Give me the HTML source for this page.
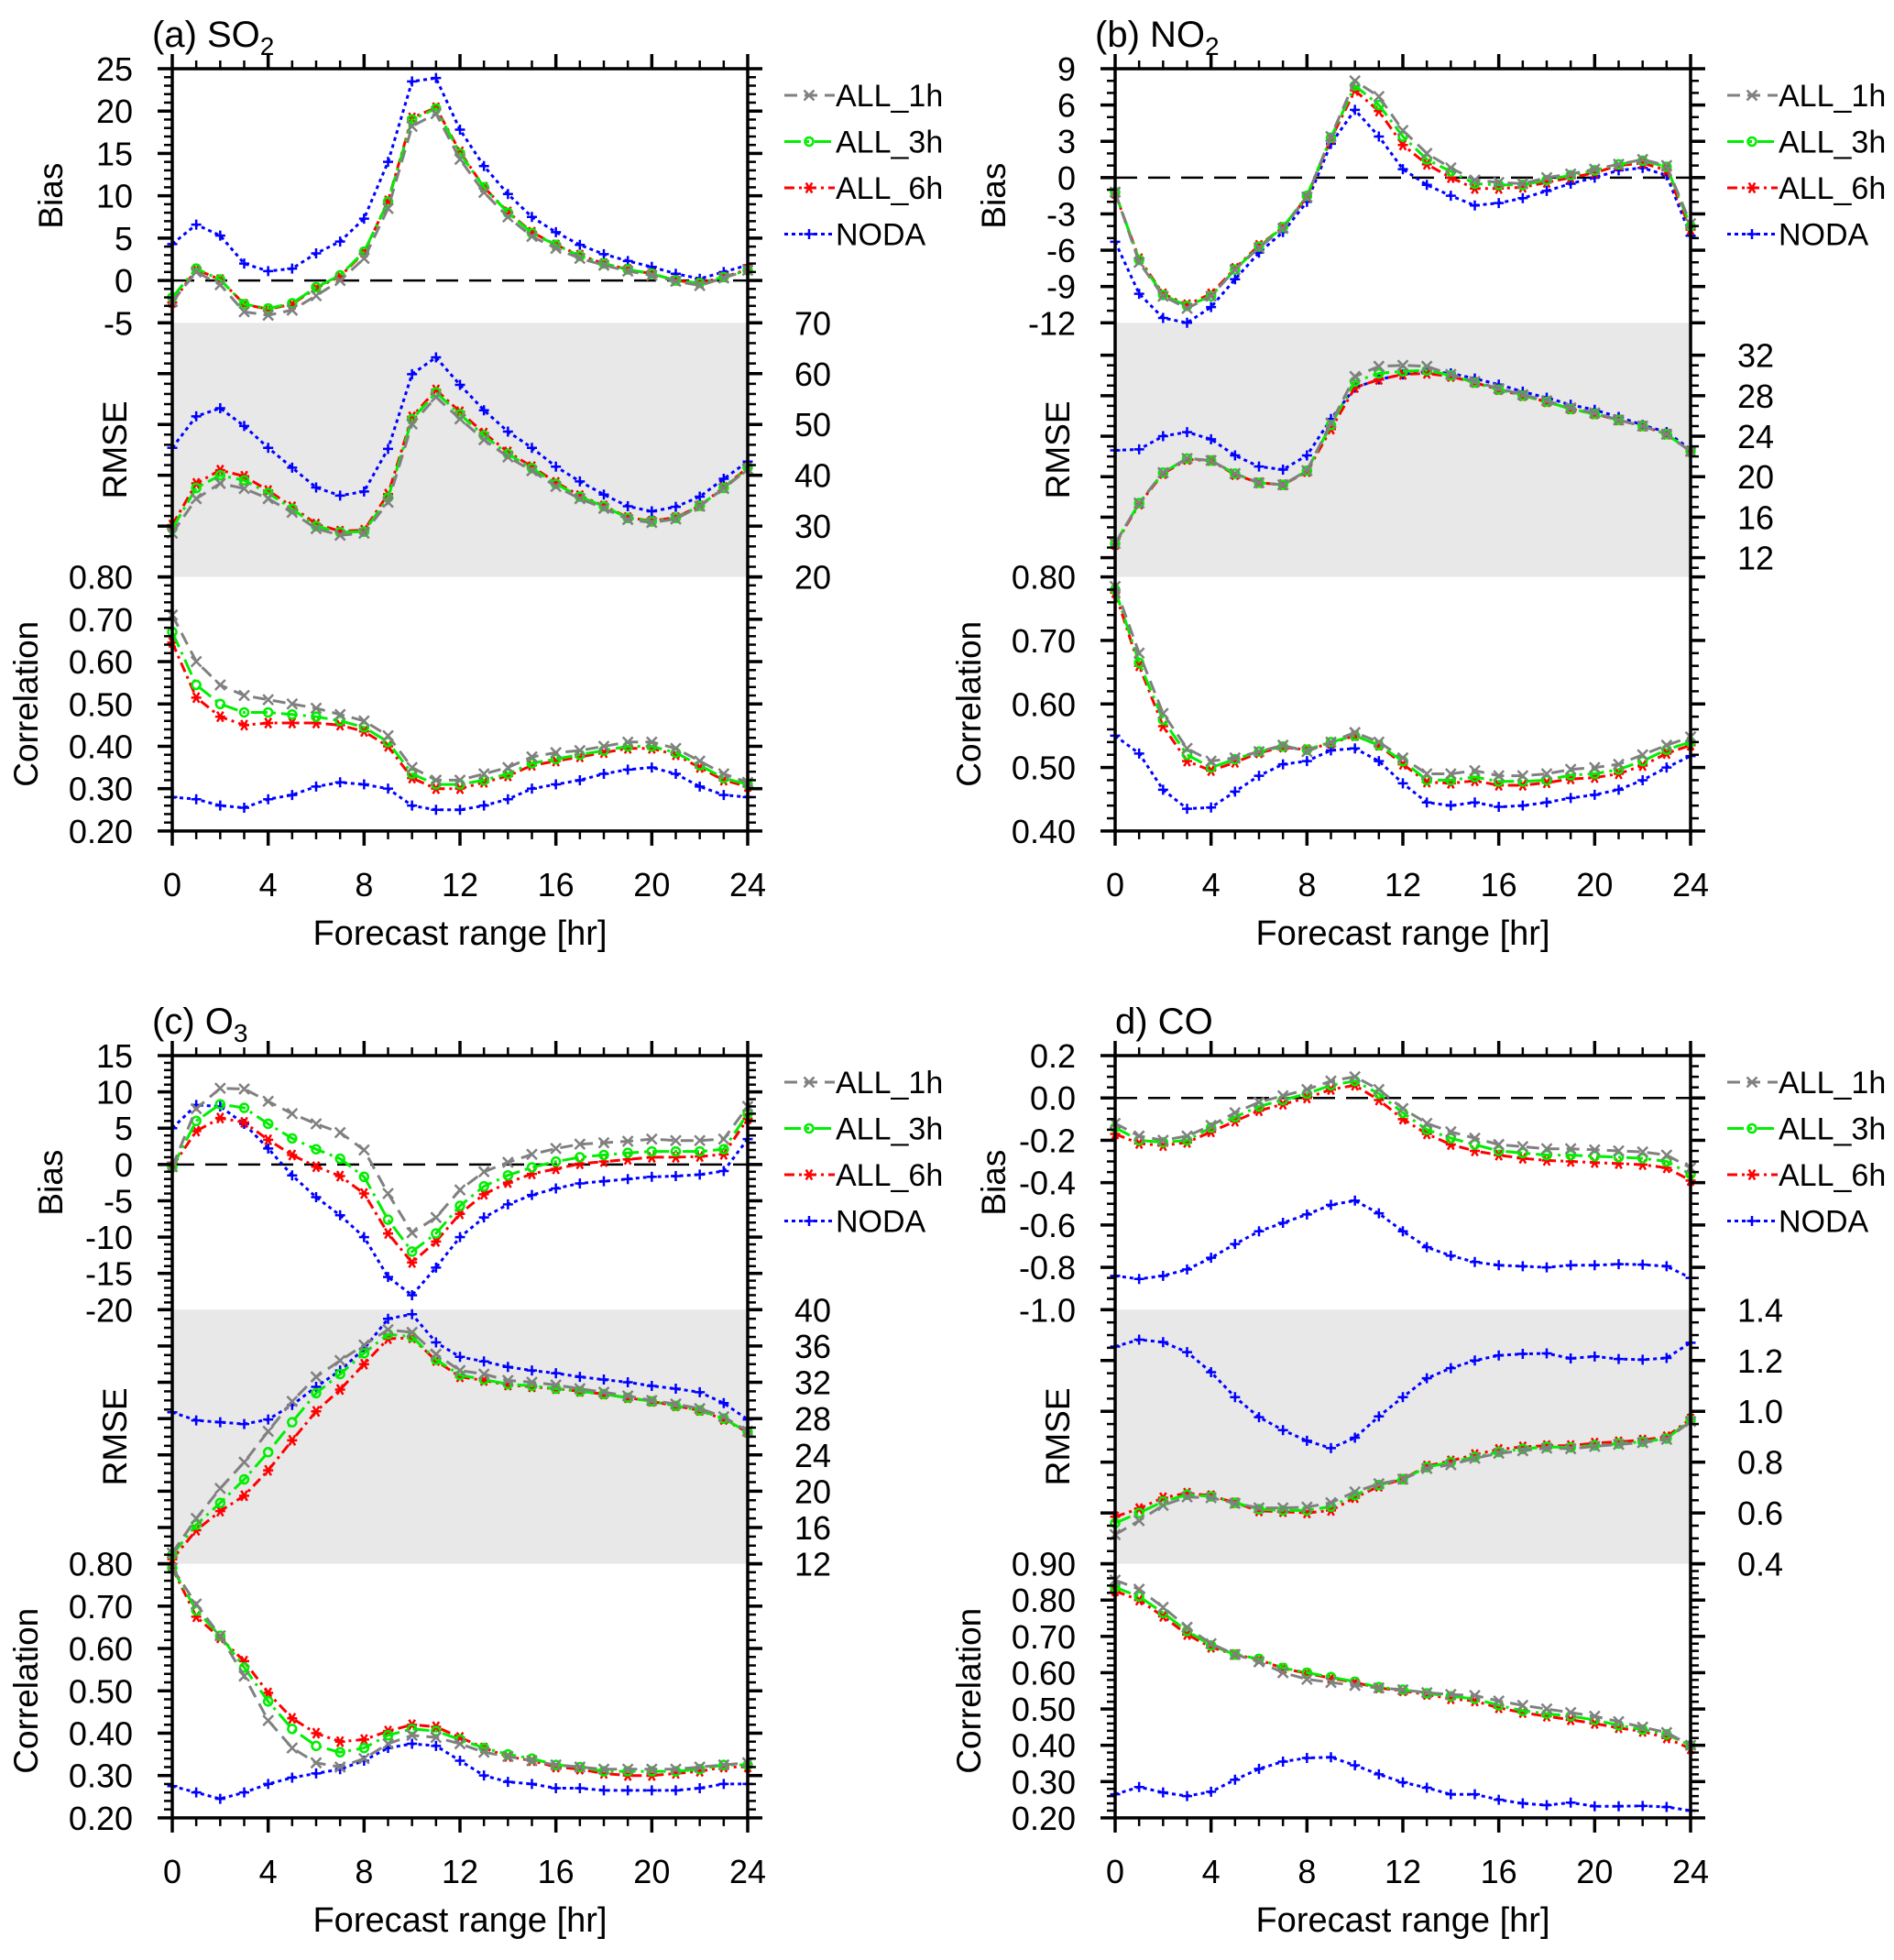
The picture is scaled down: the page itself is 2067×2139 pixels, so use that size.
<!DOCTYPE html>
<html><head><meta charset="utf-8"><style>
body{margin:0;background:#fff}
svg text{font-family:"Liberation Sans",sans-serif;fill:#000}
</style></head><body>
<svg id="chart" xmlns="http://www.w3.org/2000/svg" width="2067" height="2134" viewBox="0 0 2067 2134"></svg>
<script>
const hours=[0,1,2,3,4,5,6,7,8,9,10,11,12,13,14,15,16,17,18,19,20,21,22,23,24];
const seriesNames=["ALL_1h","ALL_3h","ALL_6h","NODA"];
// (a) SO2
const so2Bias1h=[-2.5,1.0,-0.5,-3.7,-4.1,-3.5,-1.8,0,2.6,8.5,18.2,19.7,14.3,10.4,7.5,5.2,3.8,2.6,1.8,1.1,0.6,-0.1,-0.6,0.3,1.2];
const so2Bias3h=[-2.0,1.4,0.1,-2.8,-3.3,-2.7,-0.8,0.6,3.4,9.3,19.0,20.3,15.0,11.0,8.0,5.6,4.2,2.9,2.0,1.3,0.8,0.0,-0.3,0.4,1.2];
const so2Bias6h=[-2.6,1.3,0.1,-2.8,-3.4,-2.8,-0.9,0.5,3.3,9.4,19.2,20.4,15.2,11.0,8.1,5.7,4.2,3.0,2.0,1.3,0.8,0.0,-0.3,0.4,1.3];
const so2BiasNoda=[4.3,6.6,5.3,2.0,1.1,1.4,3.2,4.6,7.3,14.0,23.5,23.9,17.8,13.5,10.2,7.5,5.7,4.2,3.1,2.3,1.6,0.8,0.2,1.0,1.8];
const so2Rmse1h=[28.6,35.4,38.4,37.4,35.4,32.7,29.5,28.2,28.6,34.7,50.1,55.4,51.1,47.0,43.6,40.9,37.8,35.4,33.5,31.3,30.7,31.4,33.9,37.4,41.2];
const so2Rmse3h=[29.5,37.5,40.0,39.0,36.5,33.4,30.0,28.8,28.9,35.6,51.0,56.3,52.0,47.8,44.2,41.4,38.3,35.8,33.9,31.6,30.9,31.6,34.0,37.5,41.5];
const so2Rmse6h=[30.2,38.4,41.0,39.8,37.0,33.8,30.4,29.0,29.2,36.3,51.5,56.8,52.5,48.3,44.6,41.7,38.6,36.0,34.0,31.7,31.0,31.7,34.0,37.6,41.5];
const so2RmseNoda=[45.4,51.6,53.2,49.7,45.4,41.5,37.6,36.0,36.8,45.2,59.9,63.2,57.8,52.8,48.6,45.4,41.7,38.8,36.2,33.9,32.9,33.8,35.8,39.3,42.7];
const so2Corr1h=[0.71,0.60,0.545,0.52,0.51,0.50,0.49,0.475,0.46,0.425,0.35,0.32,0.32,0.335,0.35,0.375,0.385,0.39,0.40,0.41,0.41,0.395,0.365,0.335,0.315];
const so2Corr3h=[0.67,0.545,0.50,0.48,0.48,0.475,0.47,0.46,0.445,0.41,0.335,0.31,0.31,0.32,0.335,0.36,0.37,0.38,0.39,0.40,0.40,0.385,0.355,0.325,0.31];
const so2Corr6h=[0.645,0.515,0.47,0.45,0.455,0.455,0.455,0.45,0.435,0.40,0.325,0.30,0.30,0.315,0.33,0.355,0.365,0.375,0.385,0.395,0.395,0.38,0.35,0.32,0.305];
const so2CorrNoda=[0.28,0.275,0.26,0.255,0.275,0.285,0.305,0.315,0.31,0.30,0.26,0.25,0.25,0.26,0.275,0.30,0.31,0.32,0.335,0.345,0.35,0.335,0.305,0.285,0.28];
// (b) NO2
const no2Bias1h=[-1.2,-7.0,-9.8,-10.8,-9.8,-7.6,-5.8,-4.2,-1.6,3.4,8.0,6.7,3.9,2.0,0.8,-0.2,-0.4,-0.5,0.0,0.3,0.7,1.1,1.5,1.0,-3.8];
const no2Bias3h=[-1.2,-6.8,-9.7,-10.6,-9.8,-7.6,-5.7,-4.1,-1.5,3.3,7.6,6.0,3.4,1.5,0.5,-0.5,-0.6,-0.6,-0.2,0.2,0.6,1.1,1.4,0.9,-4.0];
const no2Bias6h=[-1.3,-6.7,-9.6,-10.5,-9.6,-7.5,-5.6,-4.1,-1.6,3.2,7.2,5.5,2.7,1.1,0.0,-0.9,-0.9,-0.8,-0.4,0.0,0.4,1.0,1.2,0.6,-4.3];
const no2BiasNoda=[-5.3,-9.6,-11.6,-12.0,-10.7,-8.4,-6.2,-4.5,-2.0,2.8,5.6,3.4,0.7,-0.6,-1.5,-2.3,-2.1,-1.7,-1.1,-0.5,0.0,0.6,0.8,0.2,-4.8];
const no2Rmse1h=[13.4,17.4,20.4,21.8,21.6,20.3,19.4,19.2,20.6,25.3,29.9,30.9,31.0,30.9,30.1,29.4,28.7,28.1,27.5,26.8,26.3,25.6,25.0,24.2,22.5];
const no2Rmse3h=[13.4,17.4,20.4,21.8,21.6,20.3,19.4,19.2,20.6,25.1,29.4,30.2,30.4,30.5,30.0,29.3,28.6,28.0,27.4,26.7,26.2,25.6,25.0,24.2,22.5];
const no2Rmse6h=[13.3,17.3,20.3,21.7,21.6,20.2,19.4,19.2,20.5,24.7,28.8,29.6,30.1,30.2,29.9,29.3,28.6,28.0,27.4,26.7,26.2,25.6,25.0,24.2,22.5];
const no2RmseNoda=[22.6,22.7,24.0,24.4,23.7,22.1,21.0,20.7,22.1,25.7,28.8,29.6,30.1,30.4,30.2,29.7,29.1,28.4,27.8,27.1,26.6,25.9,25.1,24.4,22.7];
const no2Corr1h=[0.785,0.68,0.585,0.53,0.51,0.515,0.525,0.535,0.525,0.54,0.555,0.54,0.515,0.49,0.49,0.495,0.487,0.487,0.49,0.497,0.50,0.505,0.52,0.535,0.548];
const no2Corr3h=[0.78,0.665,0.575,0.52,0.50,0.513,0.525,0.533,0.528,0.54,0.55,0.535,0.51,0.48,0.48,0.485,0.478,0.478,0.48,0.488,0.49,0.497,0.51,0.528,0.54];
const no2Corr6h=[0.775,0.66,0.565,0.51,0.495,0.508,0.523,0.532,0.528,0.538,0.55,0.535,0.505,0.477,0.475,0.479,0.472,0.472,0.476,0.482,0.484,0.49,0.503,0.522,0.535];
const no2CorrNoda=[0.55,0.522,0.465,0.435,0.437,0.462,0.487,0.505,0.51,0.527,0.53,0.51,0.475,0.445,0.44,0.445,0.438,0.44,0.445,0.452,0.457,0.465,0.48,0.5,0.518];
// (c) O3
const o3Bias1h=[-0.3,7.7,10.5,10.4,8.7,7.0,5.6,4.4,2.0,-4.0,-9.4,-7.3,-3.5,-1.0,0.3,1.4,2.2,2.8,3.0,3.2,3.5,3.3,3.3,3.5,8.0];
const o3Bias3h=[-0.4,6.0,8.3,7.8,5.6,3.6,2.1,0.8,-1.7,-7.6,-12.0,-9.5,-5.7,-3.0,-1.5,-0.4,0.4,1.0,1.3,1.6,1.8,1.8,1.8,2.1,7.0];
const o3Bias6h=[-0.3,4.6,6.4,5.8,3.4,1.3,-0.3,-1.6,-4.0,-9.5,-13.5,-10.6,-6.8,-4.1,-2.5,-1.3,-0.6,0.1,0.4,0.7,1.0,1.0,1.1,1.4,6.3];
const o3BiasNoda=[5.0,8.2,8.0,5.6,2.2,-1.5,-4.5,-7.0,-10.0,-15.5,-18.0,-14.2,-10.0,-7.3,-5.5,-4.2,-3.3,-2.6,-2.3,-2.0,-1.7,-1.6,-1.4,-0.9,3.5];
const o3Rmse1h=[13.2,17.0,20.3,23.2,26.6,29.9,32.6,34.4,36.1,37.8,37.5,35.1,33.3,32.9,32.2,32.0,31.7,31.3,30.9,30.5,30.0,29.6,29.1,28.2,26.6];
const o3Rmse3h=[13.0,16.3,18.7,21.3,24.3,27.6,30.8,32.9,35.2,37.3,37.0,34.5,32.8,32.3,31.8,31.6,31.3,31.0,30.7,30.3,29.9,29.4,28.9,28.0,26.5];
const o3Rmse6h=[12.5,15.7,17.8,19.5,22.3,25.6,28.8,31.2,34.0,36.8,36.9,34.4,32.6,32.2,31.7,31.5,31.3,31.0,30.7,30.3,29.9,29.4,28.9,27.9,26.5];
const o3RmseNoda=[28.7,27.8,27.6,27.4,27.9,29.5,31.5,33.3,35.7,39.0,39.5,36.4,34.8,34.3,33.7,33.3,33.0,32.6,32.3,32.0,31.6,31.3,30.9,29.7,27.9];
const o3Corr1h=[0.79,0.705,0.63,0.535,0.43,0.365,0.33,0.32,0.34,0.375,0.395,0.39,0.375,0.355,0.345,0.335,0.325,0.32,0.315,0.315,0.315,0.315,0.32,0.325,0.33];
const o3Corr3h=[0.79,0.69,0.63,0.555,0.475,0.41,0.37,0.355,0.365,0.395,0.41,0.405,0.385,0.365,0.35,0.34,0.325,0.32,0.31,0.31,0.31,0.31,0.315,0.325,0.325];
const o3Corr6h=[0.79,0.675,0.625,0.57,0.495,0.435,0.40,0.38,0.385,0.405,0.42,0.415,0.39,0.365,0.345,0.335,0.32,0.315,0.305,0.30,0.30,0.305,0.31,0.32,0.32];
const o3CorrNoda=[0.275,0.26,0.245,0.26,0.28,0.295,0.305,0.315,0.335,0.365,0.375,0.37,0.335,0.3,0.285,0.28,0.27,0.27,0.265,0.265,0.265,0.265,0.27,0.28,0.28];
// (d) CO
const coBias1h=[-0.12,-0.18,-0.2,-0.18,-0.13,-0.07,-0.02,0.01,0.04,0.08,0.1,0.04,-0.05,-0.12,-0.16,-0.19,-0.22,-0.23,-0.24,-0.24,-0.245,-0.25,-0.255,-0.27,-0.33];
const coBias3h=[-0.14,-0.2,-0.21,-0.2,-0.14,-0.09,-0.04,-0.01,0.02,0.06,0.08,0.02,-0.07,-0.15,-0.19,-0.22,-0.25,-0.26,-0.27,-0.27,-0.275,-0.28,-0.285,-0.3,-0.36];
const coBias6h=[-0.17,-0.215,-0.225,-0.21,-0.16,-0.11,-0.06,-0.03,0.0,0.04,0.06,-0.01,-0.1,-0.17,-0.22,-0.25,-0.27,-0.285,-0.295,-0.3,-0.305,-0.31,-0.315,-0.33,-0.39];
const coBiasNoda=[-0.84,-0.855,-0.84,-0.81,-0.755,-0.69,-0.63,-0.59,-0.55,-0.505,-0.485,-0.545,-0.63,-0.705,-0.745,-0.775,-0.79,-0.795,-0.8,-0.79,-0.79,-0.785,-0.787,-0.795,-0.85];
const coRmse1h=[0.515,0.57,0.63,0.663,0.66,0.638,0.62,0.62,0.623,0.64,0.683,0.715,0.733,0.775,0.79,0.815,0.835,0.845,0.855,0.853,0.862,0.87,0.877,0.89,0.96];
const coRmse3h=[0.56,0.6,0.645,0.672,0.665,0.64,0.615,0.61,0.61,0.625,0.67,0.71,0.733,0.78,0.8,0.82,0.84,0.852,0.86,0.858,0.866,0.873,0.88,0.893,0.965];
const coRmse6h=[0.585,0.617,0.66,0.678,0.668,0.64,0.608,0.605,0.6,0.61,0.66,0.705,0.733,0.785,0.805,0.83,0.85,0.86,0.865,0.865,0.875,0.88,0.887,0.9,0.97];
const coRmseNoda=[1.255,1.282,1.272,1.233,1.154,1.056,0.977,0.926,0.884,0.855,0.896,0.98,1.056,1.13,1.17,1.2,1.22,1.226,1.228,1.208,1.216,1.206,1.203,1.21,1.27];
const coCorr1h=[0.855,0.83,0.78,0.725,0.68,0.65,0.63,0.6,0.582,0.573,0.565,0.558,0.553,0.545,0.54,0.537,0.522,0.51,0.5,0.49,0.48,0.465,0.45,0.435,0.40];
const coCorr3h=[0.835,0.81,0.765,0.715,0.675,0.65,0.638,0.613,0.6,0.588,0.575,0.56,0.553,0.543,0.535,0.528,0.51,0.495,0.487,0.48,0.47,0.455,0.443,0.43,0.40];
const coCorr6h=[0.825,0.8,0.755,0.705,0.67,0.65,0.636,0.612,0.598,0.585,0.573,0.558,0.55,0.54,0.528,0.522,0.503,0.49,0.48,0.47,0.46,0.448,0.438,0.42,0.39];
const coCorrNoda=[0.265,0.285,0.27,0.26,0.272,0.305,0.335,0.355,0.365,0.367,0.345,0.32,0.298,0.283,0.265,0.265,0.25,0.24,0.235,0.242,0.232,0.232,0.233,0.23,0.22];
// tick labels
const xTickLabels=["0","4","8","12","16","20","24"];
const so2BiasTicks=["25","20","15","10","5","0","-5"];
const so2RmseTicks=["70","60","50","40","30","20"];
const no2BiasTicks=["9","6","3","0","-3","-6","-9","-12"];
const no2RmseTicks=["32","28","24","20","16","12"];
const o3BiasTicks=["15","10","5","0","-5","-10","-15","-20"];
const o3RmseTicks=["40","36","32","28","24","20","16","12"];
const coBiasTicks=["0.2","0.0","-0.2","-0.4","-0.6","-0.8","-1.0"];
const coRmseTicks=["1.4","1.2","1.0","0.8","0.6","0.4"];
const corrTicks89=["0.90","0.80","0.70","0.60","0.50","0.40","0.30","0.20"];
const corrTicks8=["0.80","0.70","0.60","0.50","0.40","0.30","0.20"];
const corrTicksNo2=["0.80","0.70","0.60","0.50","0.40"];

const NS="http://www.w3.org/2000/svg";
const svg=document.getElementById('chart');
function mk(tag,attrs,parent){const e=document.createElementNS(NS,tag);for(const k in attrs)e.setAttribute(k,attrs[k]);(parent||svg).appendChild(e);return e;}
const styles=[
 {c:"#808080",d:"14,8",m:"x"},
 {c:"#00ee00",d:"18,6,3,6",m:"o"},
 {c:"#ff0000",d:"11,5,3,5",m:"*"},
 {c:"#0000ff",d:"4,4",m:"+"}];
function marker(g,type,x,y,c){
  const s=5.5;
  if(type==="x"){mk('path',{d:`M${x-s} ${y-s}L${x+s} ${y+s}M${x-s} ${y+s}L${x+s} ${y-s}`,stroke:c,'stroke-width':2.5,fill:'none'},g);}
  else if(type==="o"){mk('circle',{cx:x,cy:y,r:4.5,stroke:c,'stroke-width':2.5,fill:'none'},g);}
  else if(type==="*"){mk('path',{d:`M${x-s} ${y}L${x+s} ${y}M${x-s*0.6} ${y-s}L${x+s*0.6} ${y+s}M${x-s*0.6} ${y+s}L${x+s*0.6} ${y-s}`,stroke:c,'stroke-width':2.5,fill:'none'},g);}
  else {mk('path',{d:`M${x-s} ${y}L${x+s} ${y}M${x} ${y-s}L${x} ${y+s}`,stroke:c,'stroke-width':2.5,fill:'none'},g);}
}
const SEC=277.3;
function panel(p){
  const g=mk('g',{});
  
  
  const x0=p.x0,x1=p.x0+628,y0=p.y0;
  const xs=h=>x0+(x1-x0)*h/24;
  const secs=[{t:y0,b:y0+SEC,...p.bias},{t:y0+SEC,b:y0+2*SEC,...p.rmse},{t:y0+2*SEC,b:y0+3*SEC,...p.corr}];
  const ybot=y0+3*SEC;
  const band=mk('rect',{x:x0,y:secs[1].t,width:x1-x0,height:SEC,fill:'#e8e8e8'},g);
  
  
  const ysBias=v=>secs[0].t+(secs[0].max-v)/(secs[0].max-secs[0].min)*SEC;
  const zl=mk('line',{x1:x0,x2:x1,y1:ysBias(0),y2:ysBias(0),stroke:'#000','stroke-width':2.5,'stroke-dasharray':'24,12'},g);
  
  
  secs.forEach((s,si)=>{
    const ys=v=>s.t+(s.max-v)/(s.max-s.min)*SEC;
    const sg=mk('g',{},g);
    
    
    [3,2,1,0].forEach(k=>{
      const arr=s.data[k];const st=styles[k];
      const pts=arr.map((v,i)=>xs(hours[i]).toFixed(1)+','+ys(v).toFixed(1)).join(' ');
      const pl=mk('polyline',{points:pts,fill:'none',stroke:st.c,'stroke-width':3,'stroke-dasharray':st.d},sg);
      
      
      arr.forEach((v,i)=>marker(sg,st.m,xs(hours[i]),ys(v),st.c));
    });
    for(let v=s.tickStart;v>=s.min-1e-9;v-=s.minor){
      if(v>s.max+1e-9)continue;
      const y=ys(v);const isMaj=Math.abs(Math.round((v-s.tickStart)/s.major)*s.major-(v-s.tickStart))<1e-6;
      const L=isMaj?16:9;
      mk('line',{x1:x0-L,x2:x0,y1:y,y2:y,stroke:'#000','stroke-width':isMaj?3.5:2.5},g);
      mk('line',{x1:x1,x2:x1+L,y1:y,y2:y,stroke:'#000','stroke-width':isMaj?3.5:2.5},g);
    }
    s.labels.forEach((lab,i)=>{
      const v=s.tickStart-i*s.major;const y=ys(v);
      const t=mk('text',{x:s.right?x1+51:x0-43,y:y+13,'font-size':36,'text-anchor':s.right?'start':'end'},g);
      t.textContent=lab;
      
      
    });
    const ttl=mk('text',{x:0,y:0,'font-size':37,'text-anchor':'middle',transform:`translate(${x0+s.titleDx},${(s.t+s.b)/2}) rotate(-90)`},g);
    ttl.textContent=s.title;
    
    
  });
  mk('rect',{x:x0,y:y0,width:x1-x0,height:3*SEC,fill:'none',stroke:'#000','stroke-width':3.5},g);
  hours.forEach(h=>{
    const x=xs(h);const maj=h%4===0;const L=maj?16:9;
    mk('line',{x1:x,x2:x,y1:y0-L,y2:y0,stroke:'#000','stroke-width':maj?3.5:2.5},g);
    mk('line',{x1:x,x2:x,y1:ybot,y2:ybot+L,stroke:'#000','stroke-width':maj?3.5:2.5},g);
  });
  xTickLabels.forEach((lab,i)=>{
    const t=mk('text',{x:xs(i*4),y:ybot+71,'font-size':36,'text-anchor':'middle'},g);
    t.textContent=lab;
    
    
  });
  const xl=mk('text',{x:(x0+x1)/2,y:ybot+124,'font-size':38,'text-anchor':'middle'},g);
  xl.textContent='Forecast range [hr]';
  
  
  const tt=mk('text',{x:x0+p.titleDx,y:y0-24,'font-size':40},g);
  tt.innerHTML=p.title;
  
  
  const lg=mk('g',{},g);
  
  
  seriesNames.forEach((n,k)=>{
    const y=y0+29+k*50.5;const lx=x1+40;
    const e=mk('g',{},lg);
    
    
    mk('line',{x1:lx,x2:lx+55,y1:y,y2:y,stroke:styles[k].c,'stroke-width':3,'stroke-dasharray':styles[k].d},e);
    marker(e,styles[k].m,lx+27,y,styles[k].c);
    const t=mk('text',{x:lx+56,y:y+12,'font-size':34},e);t.textContent=n;
  });
}
panel({name:'panel-a-so2',x0:188,y0:75,titleDx:-22,title:'(a) SO<tspan font-size="28" dy="9">2</tspan>',
 bias:{min:-5,max:25,tickStart:25,major:5,minor:1,labels:so2BiasTicks,title:'Bias',titleDx:-120,data:[so2Bias1h,so2Bias3h,so2Bias6h,so2BiasNoda]},
 rmse:{min:20,max:70,tickStart:70,major:10,minor:2,labels:so2RmseTicks,right:true,title:'RMSE',titleDx:-50,data:[so2Rmse1h,so2Rmse3h,so2Rmse6h,so2RmseNoda]},
 corr:{min:0.2,max:0.8,tickStart:0.8,major:0.1,minor:0.02,labels:corrTicks8,title:'Correlation',titleDx:-147,data:[so2Corr1h,so2Corr3h,so2Corr6h,so2CorrNoda]}});
panel({name:'panel-b-no2',x0:1217,y0:75,titleDx:-22,title:'(b) NO<tspan font-size="28" dy="9">2</tspan>',
 bias:{min:-12,max:9,tickStart:9,major:3,minor:1,labels:no2BiasTicks,title:'Bias',titleDx:-120,data:[no2Bias1h,no2Bias3h,no2Bias6h,no2BiasNoda]},
 rmse:{min:10.1,max:35.2,tickStart:32,major:4,minor:1,labels:no2RmseTicks,right:true,title:'RMSE',titleDx:-50,data:[no2Rmse1h,no2Rmse3h,no2Rmse6h,no2RmseNoda]},
 corr:{min:0.4,max:0.8,tickStart:0.8,major:0.1,minor:0.02,labels:corrTicksNo2,title:'Correlation',titleDx:-147,data:[no2Corr1h,no2Corr3h,no2Corr6h,no2CorrNoda]}});
panel({name:'panel-c-o3',x0:188,y0:1152,titleDx:-22,title:'(c) O<tspan font-size="28" dy="9">3</tspan>',
 bias:{min:-20,max:15,tickStart:15,major:5,minor:1,labels:o3BiasTicks,title:'Bias',titleDx:-120,data:[o3Bias1h,o3Bias3h,o3Bias6h,o3BiasNoda]},
 rmse:{min:12,max:40,tickStart:40,major:4,minor:1,labels:o3RmseTicks,right:true,title:'RMSE',titleDx:-50,data:[o3Rmse1h,o3Rmse3h,o3Rmse6h,o3RmseNoda]},
 corr:{min:0.2,max:0.8,tickStart:0.8,major:0.1,minor:0.02,labels:corrTicks8,title:'Correlation',titleDx:-147,data:[o3Corr1h,o3Corr3h,o3Corr6h,o3CorrNoda]}});
panel({name:'panel-d-co',x0:1217,y0:1152,titleDx:0,title:'d) CO',
 bias:{min:-1.0,max:0.2,tickStart:0.2,major:0.2,minor:0.05,labels:coBiasTicks,title:'Bias',titleDx:-120,data:[coBias1h,coBias3h,coBias6h,coBiasNoda]},
 rmse:{min:0.4,max:1.4,tickStart:1.4,major:0.2,minor:0.05,labels:coRmseTicks,right:true,title:'RMSE',titleDx:-50,data:[coRmse1h,coRmse3h,coRmse6h,coRmseNoda]},
 corr:{min:0.2,max:0.9,tickStart:0.9,major:0.1,minor:0.02,labels:corrTicks89,title:'Correlation',titleDx:-147,data:[coCorr1h,coCorr3h,coCorr6h,coCorrNoda]}});
</script>
</body></html>
